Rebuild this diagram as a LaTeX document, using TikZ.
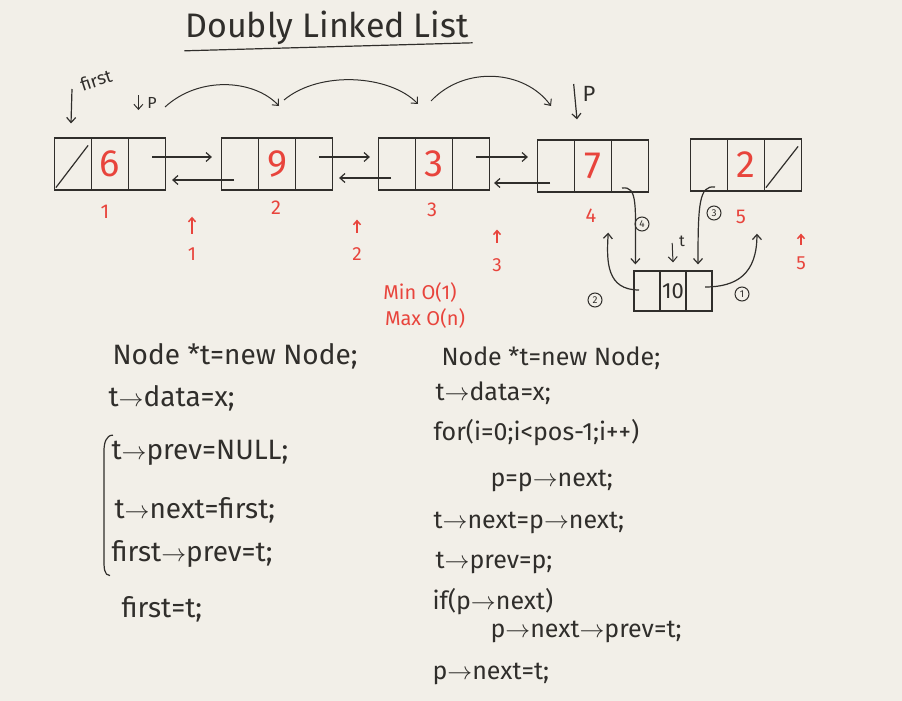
\documentclass[tikz,border=0pt]{standalone}
\usepackage{fontspec}
\setmainfont{Fira Sans}
\usetikzlibrary{calc,arrows.meta}
\definecolor{board}{RGB}{242,239,232}
\definecolor{marker}{RGB}{48,46,43}
\definecolor{redmk}{RGB}{232,68,60}
\begin{document}
\begin{tikzpicture}[x=1pt,y=-1pt,line width=1.2pt,color=marker,
    cell/.style={draw,minimum width=37pt,minimum height=52pt,inner sep=0pt,
      text=redmk,font=\fontsize{38}{38}\selectfont},
    tcell/.style={draw,minimum width=26pt,minimum height=40pt,inner sep=0pt,
      font=\fontsize{22}{22}\selectfont},
    link/.style={-{Straight Barb[length=5pt,width=9pt]}},
    redtx/.style={text=redmk,font=\fontsize{20}{20}\selectfont},
    code/.style={anchor=base west,inner sep=0pt,font=\fontsize{28}{28}\selectfont},
    codeb/.style={code,font=\fontsize{25}{25}\selectfont},
    circ/.style={draw,circle,inner sep=1pt,minimum size=14pt,line width=1pt,font=\fontsize{10}{10}\selectfont}]
  \fill[board] (0,0) rectangle (902,701);
  \node[font=\fontsize{34}{34}\selectfont] (title) at (327,28) {Doubly Linked List};
  \draw ($(title.south west)+(3,2)$) -- ($(title.south east)+(0,-6)$);
  \node[cell] (n1p) at (73,164) {};
  \node[cell] (n1d) at (110,164) {6};
  \node[cell] (n1n) at (147,164) {};
  \node[cell] (n2p) at (240,164) {};
  \node[cell] (n2d) at (277,164) {9};
  \node[cell] (n2n) at (314,164) {};
  \node[cell] (n3p) at (397,164) {};
  \node[cell] (n3d) at (434,164) {3};
  \node[cell] (n3n) at (471,164) {};
  \node[cell] (n4p) at (556,166) {};
  \node[cell] (n4d) at (593,166) {7};
  \node[cell] (n4n) at (630,166) {};
  \node[cell] (n5p) at (709,165) {};
  \node[cell] (n5d) at (746,165) {2};
  \node[cell] (n5n) at (783,165) {};
  \node[tcell] (tp) at (647,291) {};
  \node[tcell] (td) at (673,291) {10};
  \node[tcell] (tn) at (699,291) {};
  \draw ($(n1p.south west)+(2,-3)$) -- ($(n1p.north east)+(-4,8)$);
  \draw ($(n5n.south west)+(2,-4)$) -- ($(n5n.north east)+(-4,8)$);
  \begin{scope}[link]
    \draw ($(n1n.center)+(5,-7)$) -- ($(n2p.west)+(-9,-7)$);
    \draw ($(n2p.center)+(-6,16)$) -- ($(n1n.east)+(6,16)$);
    \draw ($(n2n.center)+(5,-7)$) -- ($(n3p.west)+(-8,-7)$);
    \draw ($(n3p.center)+(-6,14)$) -- ($(n2n.east)+(6,14)$);
    \draw ($(n3n.center)+(5,-7)$) -- ($(n4p.west)+(-9,-9)$);
    \draw ($(n4p.center)+(-6,17)$) -- ($(n3n.east)+(4,19)$);
  \end{scope}
  \node[redtx] (l1) at (105,212) {1};
  \node[redtx] (l2) at (276,208) {2};
  \node[redtx] (l3) at (432,210) {3};
  \node[redtx] (l4) at (591,216) {4};
  \node[redtx] (l5) at (741,217) {5};
  \node[redtx,font=\fontsize{19}{19}\selectfont] (i1) at (192,254) {1};
  \node[redtx,font=\fontsize{19}{19}\selectfont] (i2) at (357,254) {2};
  \node[redtx,font=\fontsize{19}{19}\selectfont] (i3) at (497,265) {3};
  \node[redtx,font=\fontsize{19}{19}\selectfont] (i5) at (801,263) {5};
  \begin{scope}[redmk,line width=1.5pt,-{Straight Barb[length=4pt,width=7pt]}]
    \draw ($(i1.north)+(0,-10)$) -- ++(0,-17);
    \draw ($(i2.north)+(0,-11)$) -- ++(0,-13);
    \draw ($(i3.north)+(0,-12)$) -- ++(0,-13);
    \draw ($(i5.north)+(0,-8)$) -- ++(0,-11);
  \end{scope}
  \node[redtx] (mn) at (420,292) {Min O(1)};
  \node[redtx] (mx) at (425,318) {Max O(n)};
  \node[rotate=18,font=\fontsize{18}{18}\selectfont] (first) at (96,80) {first};
  \coordinate (f0) at (72,89);
  \draw[link] (f0) -- ($(n1p.north)+(-2,-14)$);
  \node[font=\fontsize{16}{16}\selectfont] (p1) at (152,103) {P};
  \draw[link,line width=1pt] ($(p1.west)+(-5,-8)$) -- ++(0,15);
  \node[font=\fontsize{22}{22}\selectfont] (p4) at (589,94) {P};
  \draw[link] ($(p4.west)+(-5,-10)$) -- ($(n4d.north)+(-16,-20)$);
  \coordinate (a0) at (165,107);
  \coordinate (a1) at (279,106);
  \coordinate (a2) at (284,100);
  \coordinate (a3) at (418,104);
  \coordinate (a4) at (431,101);
  \coordinate (a5) at (551,106);
  \begin{scope}[link,line width=1pt]
    \draw (a0) .. controls (200,75) and (255,80) .. (a1);
    \draw (a2) .. controls (320,70) and (390,75) .. (a3);
    \draw (a4) .. controls (465,65) and (525,70) .. (a5);
  \end{scope}
  \node[font=\fontsize{16}{16}\selectfont] (tl) at (682,241) {t};
  \draw[link,line width=1pt] ($(tl.west)+(-3,2)$) -- ($(td.north)+(0,-8)$);
  \begin{scope}[link]
    \draw ($(n4n.center)+(-8,22)$) .. controls +(16,-2) and +(0,-60) .. ($(tp.north west)+(2,-6)$);
    \draw ($(n5p.center)+(6,22)$) .. controls +(-16,-2) and +(0,-60) .. ($(tn.north)+(-1,-6)$);
    \draw ($(tp.center)+(-8,-1)$) .. controls +(-32,0) and +(-2,30) .. ($(l4.south east)+(8,6)$);
    \draw ($(tn.center)+(6,-4)$) .. controls +(32,0) and +(0,40) .. ($(l5.south east)+(7,6)$);
  \end{scope}
  \node[circ] (c4) at (642,224) {4};
  \node[circ] (c3) at (714,213) {3};
  \node[circ] (c2) at (595,300) {2};
  \node[circ] (c1) at (742,294) {1};
  \node[code] (a1l) at (112,364) {Node *t=new Node;};
  \node[code] (a2l) at (108,406) {t$\rightarrow$data=x;};
  \node[code] (a3l) at (111,459) {t$\rightarrow$prev=NULL;};
  \node[code] (a4l) at (114,518) {t$\rightarrow$next=first;};
  \node[code] (a5l) at (111,561) {first$\rightarrow$prev=t;};
  \node[code] (a6l) at (121,617) {first=t;};
  \draw ($(a3l.north west)+(2,-4)$) .. controls +(-7,0) and +(0,-8) .. ($(a3l.north west)+(-7,12)$)
    -- ($(a5l.south west)+(-7,-8)$) .. controls +(0,8) and +(-6,0) .. ($(a5l.south west)+(-1,8)$);
  \node[codeb] (b1l) at (441,365) {Node *t=new Node;};
  \node[codeb] (b2l) at (435,400) {t$\rightarrow$data=x;};
  \node[codeb] (b3l) at (433,440) {for(i=0;i<pos-1;i++)};
  \node[codeb] (b4l) at (490,486) {p=p$\rightarrow$next;};
  \node[codeb] (b5l) at (433,528) {t$\rightarrow$next=p$\rightarrow$next;};
  \node[codeb] (b6l) at (435,568) {t$\rightarrow$prev=p;};
  \node[codeb] (b7l) at (432,609) {if(p$\rightarrow$next)};
  \node[codeb] (b8l) at (490,637) {p$\rightarrow$next$\rightarrow$prev=t;};
  \node[codeb] (b9l) at (432,679) {p$\rightarrow$next=t;};
\end{tikzpicture}
\end{document}
